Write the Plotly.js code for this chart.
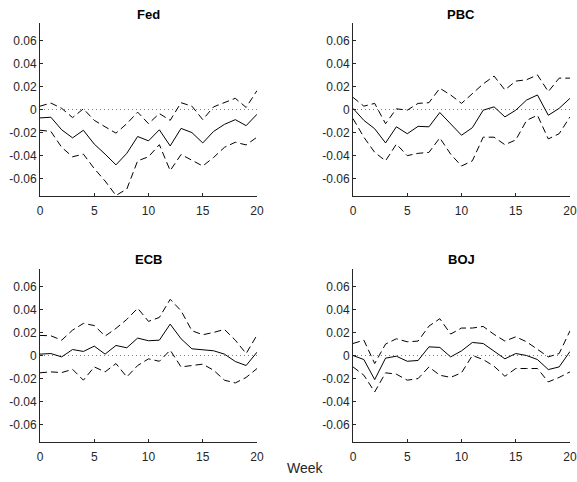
<!DOCTYPE html>
<html>
<head>
<meta charset="utf-8">
<script src="https://cdn.plot.ly/plotly-3.0.1.min.js"></script>
<style>html,body{margin:0;padding:0;background:#fff}#chart{width:577px;height:482px}</style>
</head>
<body>
<div id="chart"></div>
<script>
const weeks = [0,1,2,3,4,5,6,7,8,9,10,11,12,13,14,15,16,17,18,19,20];
const panels = ["Fed","PBC","ECB","BOJ"];

const fedMid = [-0.0073,-0.0067,-0.0176,-0.0246,-0.018,-0.030,-0.0387,-0.048,-0.038,-0.0234,-0.0272,-0.0176,-0.0316,-0.0164,-0.020,-0.029,-0.019,-0.0129,-0.0088,-0.014,-0.0041];
const fedUp  = [0.0029,0.0056,0.001,-0.007,0.0006,-0.0094,-0.015,-0.0205,-0.0123,-0.0023,-0.0123,-0.0035,-0.0094,0.0059,0.0029,-0.0088,0.0023,0.0059,0.0097,0.0018,0.0164];
const fedLo  = [-0.018,-0.019,-0.0328,-0.041,-0.0387,-0.0512,-0.062,-0.0745,-0.069,-0.0445,-0.041,-0.0305,-0.053,-0.039,-0.044,-0.049,-0.0416,-0.0328,-0.0284,-0.0307,-0.024];

const pbcMid = [0.001,-0.0094,-0.0167,-0.029,-0.015,-0.021,-0.0146,-0.015,-0.0026,-0.0123,-0.0223,-0.0158,-0.0006,0.0023,-0.0064,-0.0006,0.0082,0.0126,-0.005,0.001,0.0097];
const pbcUp  = [0.0105,0.0029,0.0053,-0.0123,0.0006,-0.0006,0.0053,0.0059,0.0184,0.0126,0.0053,0.014,0.0222,0.029,0.017,0.0246,0.0258,0.030,0.0155,0.0272,0.0272];
const pbcLo  = [-0.0079,-0.024,-0.0372,-0.0445,-0.030,-0.040,-0.038,-0.0372,-0.0246,-0.0387,-0.049,-0.0445,-0.024,-0.024,-0.0305,-0.0264,-0.0094,-0.005,-0.0255,-0.021,-0.0064];

const ecbMid = [0.0012,0.0017,-0.0012,0.0052,0.0035,0.0081,0.0012,0.0087,0.0067,0.0151,0.0128,0.0133,0.0272,0.0145,0.0058,0.0052,0.0041,0.0012,-0.0052,-0.0087,0.0029];
const ecbUp  = [0.0174,0.0171,0.0133,0.022,0.0278,0.026,0.0168,0.0235,0.0313,0.041,0.0296,0.033,0.0487,0.0388,0.0215,0.018,0.02,0.0226,0.0133,0.0017,0.0177];
const ecbLo  = [-0.015,-0.0142,-0.0148,-0.012,-0.0214,-0.0099,-0.0142,-0.007,-0.0186,-0.0087,-0.0029,-0.005,0.0046,-0.0099,-0.0087,-0.0075,-0.0128,-0.0214,-0.0238,-0.019,-0.0113];

const bojMid = [0,-0.0035,-0.0209,-0.0023,-0.0006,-0.005,-0.0043,0.0075,0.007,-0.0012,0.004,0.0113,0.0104,0.0038,-0.0029,0.0017,0,-0.0035,-0.0122,-0.0099,0.0035];
const bojUp  = [0.0104,0.0133,-0.007,0.0099,0.0145,0.0119,0.0125,0.0255,0.0319,0.0186,0.0238,0.0238,0.0252,0.0183,0.0125,0.0162,0.0119,0.0055,-0.0012,0.0017,0.0214];
const bojLo  = [-0.0099,-0.0171,-0.0316,-0.015,-0.0162,-0.0214,-0.02,-0.0099,-0.0171,-0.019,-0.015,0,-0.0035,-0.0093,-0.018,-0.0113,-0.0113,-0.0113,-0.0229,-0.019,-0.0142];

const zeroX = [0,20];
const zeroY = [0,0];
const yTicks = [-0.06,-0.04,-0.02,0,0.02,0.04,0.06];
const yTickText = ["-0.06","-0.04","-0.02","0","0.02","0.04","0.06"];
const xTicks = [0,5,10,15,20];

const series = [
  [fedMid, fedUp, fedLo],
  [pbcMid, pbcUp, pbcLo],
  [ecbMid, ecbUp, ecbLo],
  [bojMid, bojUp, bojLo]
];

const axisColor = "#262626";
const fam = "Liberation Sans, Arial, sans-serif";
const font = {family: fam, size: 12, color: axisColor};

const traces = [];
series.forEach((s, i) => {
  const xa = i === 0 ? "x" : "x" + (i + 1);
  const ya = i === 0 ? "y" : "y" + (i + 1);
  traces.push({x: zeroX, y: zeroY, xaxis: xa, yaxis: ya, mode: "lines",
    line: {color: "#808080", width: 1, dash: "1px,3px"}, hoverinfo: "skip", showlegend: false});
  traces.push({x: weeks, y: s[1], xaxis: xa, yaxis: ya, mode: "lines",
    line: {color: "#000", width: 1, dash: "7px,4px"}, showlegend: false});
  traces.push({x: weeks, y: s[2], xaxis: xa, yaxis: ya, mode: "lines",
    line: {color: "#000", width: 1, dash: "7px,4px"}, showlegend: false});
  traces.push({x: weeks, y: s[0], xaxis: xa, yaxis: ya, mode: "lines",
    line: {color: "#000", width: 1}, showlegend: false});
});

const W = 577, H = 482;
const xDomL = [40 / W, 257 / W];
const xDomR = [353 / W, 570 / W];
const yDomT = [1 - 196 / H, 1 - 23 / H];
const yDomB = [1 - 442 / H, 1 - 269 / H];

function xaxis(dom, anchor) {
  return {domain: dom, anchor: anchor, range: [0, 20], tickvals: xTicks, ticks: "inside",
    ticklen: 3, tickcolor: axisColor, showline: true, linecolor: axisColor, linewidth: 1,
    showgrid: false, zeroline: false, tickfont: font, ticklabelstandoff: 4, fixedrange: true};
}
function yaxis(dom, anchor) {
  return {domain: dom, anchor: anchor, range: [-0.075, 0.075], tickvals: yTicks, ticktext: yTickText,
    ticks: "inside", ticklen: 3, tickcolor: axisColor, showline: true, linecolor: axisColor, linewidth: 1,
    showgrid: false, zeroline: false, tickfont: font, fixedrange: true};
}

const titleFont = {family: fam, size: 13, color: "#000"};
const annotations = [
  {text: "<b>" + panels[0] + "</b>", x: (xDomL[0] + xDomL[1]) / 2, y: 1 - 14 / H},
  {text: "<b>" + panels[1] + "</b>", x: (xDomR[0] + xDomR[1]) / 2, y: 1 - 14 / H},
  {text: "<b>" + panels[2] + "</b>", x: (xDomL[0] + xDomL[1]) / 2, y: 1 - 259 / H},
  {text: "<b>" + panels[3] + "</b>", x: (xDomR[0] + xDomR[1]) / 2, y: 1 - 259 / H},
  {text: "Week", x: 305 / W, y: 1 - 468 / H}
].map((a, i) => Object.assign({xref: "paper", yref: "paper", showarrow: false,
  xanchor: "center", yanchor: "middle",
  font: i < 4 ? titleFont : {family: fam, size: 14, color: axisColor}}, a));

const layout = {
  width: W, height: H,
  margin: {l: 0, r: 0, t: 0, b: 0},
  paper_bgcolor: "#fff", plot_bgcolor: "#fff",
  showlegend: false,
  xaxis: xaxis(xDomL, "y"),  yaxis: yaxis(yDomT, "x"),
  xaxis2: xaxis(xDomR, "y2"), yaxis2: yaxis(yDomT, "x2"),
  xaxis3: xaxis(xDomL, "y3"), yaxis3: yaxis(yDomB, "x3"),
  xaxis4: xaxis(xDomR, "y4"), yaxis4: yaxis(yDomB, "x4"),
  annotations: annotations
};

Plotly.newPlot("chart", traces, layout, {displayModeBar: false, staticPlot: true});
</script>
</body>
</html>
